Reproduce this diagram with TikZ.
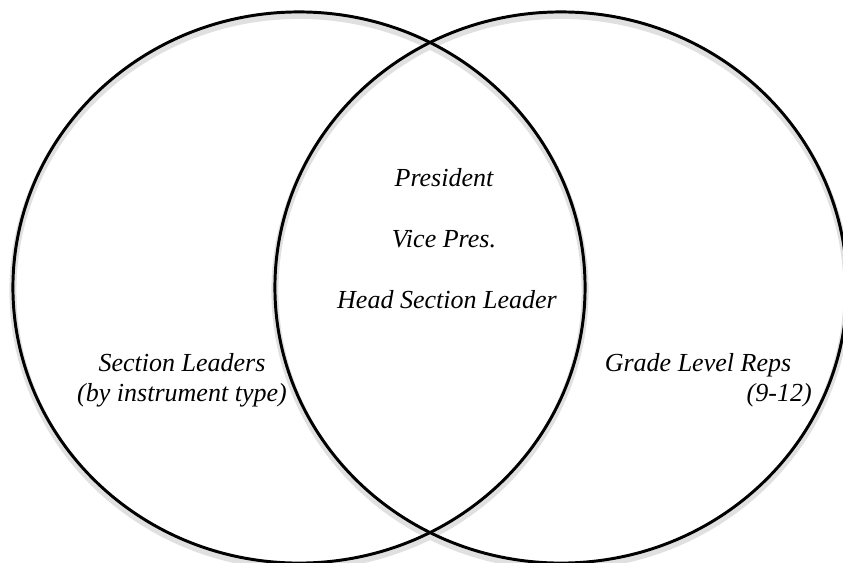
\documentclass[tikz,border=0pt]{standalone}
\usepackage{fontspec}
\setmainfont{Liberation Serif}
\usepackage{tikz}

\tikzset{
  ring/.style={draw=black,line width=2.1pt},
  ringshade/.style={draw=black!12,line width=5pt},
  label/.style={inner sep=0pt,font=\fontsize{18.5}{22}\selectfont\itshape}
}

\begin{document}
\begin{tikzpicture}[x=0.025cm,y=-0.025cm]
\useasboundingbox(0,0)rectangle(843,563);
% soft shadow under the rings
\draw[ringshade](299,291)ellipse[x radius=7.15cm,y radius=6.8875cm];
\draw[ringshade](561,291)ellipse[x radius=7.15cm,y radius=6.8875cm];
% the two rings
\draw[ring](299,287.5)ellipse[x radius=7.15cm,y radius=6.8875cm];
\draw[ring](561,287.5)ellipse[x radius=7.15cm,y radius=6.8875cm];
% middle
\node[label,anchor=base](pres)at(444,187){President};
\node[label,anchor=base](vice)at(444,248){Vice Pres.};
\node[label,anchor=base](head)at(447,309){Head Section Leader};
% left
\node[label,anchor=base](sect)at(182,372){Section Leaders};
\node[label,anchor=base](inst)at(182,402){(by instrument type)};
% right
\node[label,anchor=base](grade)at(698,372){Grade Level Reps};
\node[label,anchor=base east](years)at(812,402){(9-12)};
\end{tikzpicture}
\end{document}
